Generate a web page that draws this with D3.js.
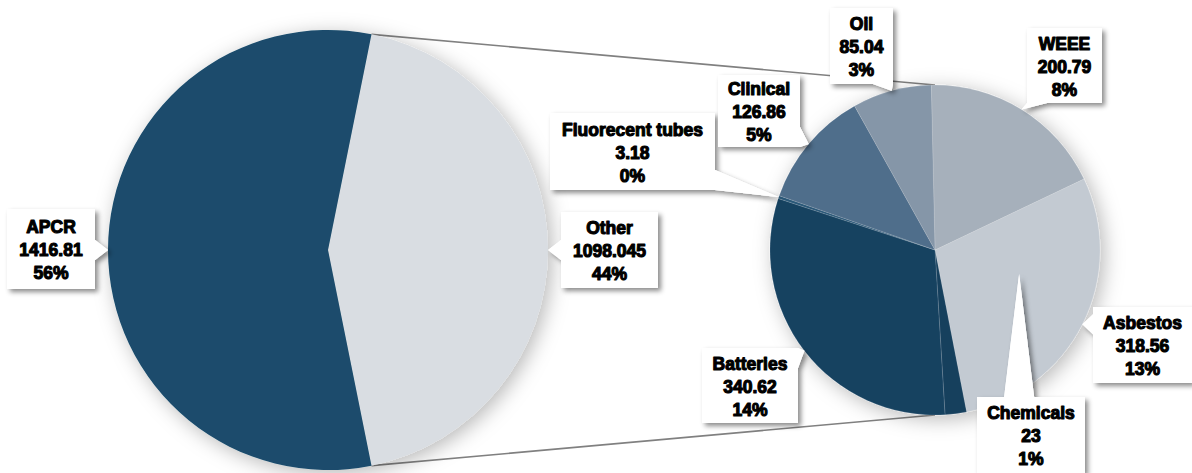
<!DOCTYPE html>
<html><head><meta charset="utf-8">
<script src="https://cdn.jsdelivr.net/npm/d3@7"></script>
<style>html,body{margin:0;padding:0;background:#fff;}svg{display:block;}</style>
</head><body>
<svg id="chart" width="1192" height="473"></svg>
<script>
// ---- data ----
const mainCategories = ["Other", "APCR"];
const mainValues = [1098.045, 1416.81];
const mainColors = ["#d9dde2", "#1a4c6c"];

const subCategories = ["WEEE", "Asbestos", "Chemicals", "Batteries", "Fluorecent tubes", "Clinical", "Oil"];
const subValues = [200.79, 318.56, 23, 340.62, 3.18, 126.86, 85.04];
const subColors = ["#a6b0bb", "#c3cad2", "#163f5d", "#174261", "#2b5878", "#506e8b", "#8596a8"];

// label box layout (x, y, w, h)
const labelBoxes = {
  "APCR": [7, 209, 88, 80],
  "Other": [561, 212, 97, 76],
  "Oil": [830, 8, 63, 76],
  "Clinical": [718, 75, 82, 72],
  "Fluorecent tubes": [550, 113, 165, 77],
  "WEEE": [1027, 28, 75, 75],
  "Asbestos": [1093, 307, 99, 76],
  "Chemicals": [977, 397, 108, 76],
  "Batteries": [702, 348, 96, 75]
};
// ---- layout ----
const svg = d3.select("#chart");
const total = d3.sum(mainValues);
const L = {cx: 328, cy: 250, r: 220};
const R = {cx: 935, cy: 250, r: 165};
const subStart = -1.3 * Math.PI / 180;

const defs = svg.append("defs");
const f1 = defs.append("filter").attr("id", "pieShadow").attr("x", "-20%").attr("y", "-20%").attr("width", "140%").attr("height", "140%");
f1.append("feDropShadow").attr("dx", 4).attr("dy", 4).attr("stdDeviation", 10).attr("flood-color", "#000").attr("flood-opacity", 0.28);
const f2 = defs.append("filter").attr("id", "boxShadow").attr("x", "-30%").attr("y", "-30%").attr("width", "160%").attr("height", "160%");
f2.append("feDropShadow").attr("dx", 3).attr("dy", 3).attr("stdDeviation", 2.5).attr("flood-color", "#000").attr("flood-opacity", 0.45);

// main pie: "Other" slice centred on 3 o'clock
const otherFrac = mainValues[0] / total;
const mainStart = Math.PI / 2 - otherFrac * Math.PI;
const mainPie = d3.pie().sort(null).value(d => d.v).startAngle(mainStart).endAngle(mainStart + 2 * Math.PI);
const mainArcs = mainPie(mainCategories.map((c, i) => ({c, v: mainValues[i], col: mainColors[i]})));

const subPie = d3.pie().sort(null).value(d => d.v).startAngle(subStart).endAngle(subStart + 2 * Math.PI);
const subArcs = subPie(subCategories.map((c, i) => ({c, v: subValues[i], col: subColors[i]})));

const pt = (C, a, r) => [C.cx + r * Math.sin(a), C.cy - r * Math.cos(a)];

// connector lines
const otherArc = mainArcs[0];
const conn = [
  [pt(L, otherArc.startAngle, L.r), pt(R, 0, R.r)],
  [pt(L, otherArc.endAngle, L.r), pt(R, Math.PI, R.r)]
];
svg.append("g").selectAll("line").data(conn).join("line")
  .attr("x1", d => d[0][0]).attr("y1", d => d[0][1])
  .attr("x2", d => d[1][0]).attr("y2", d => d[1][1])
  .attr("stroke", "#808080").attr("stroke-width", 1.6);

// pies
const arcL = d3.arc().innerRadius(0).outerRadius(L.r);
svg.append("g").attr("transform", `translate(${L.cx},${L.cy})`).attr("filter", "url(#pieShadow)")
  .selectAll("path").data(mainArcs).join("path")
  .attr("d", arcL).attr("fill", d => d.data.col);

const arcR = d3.arc().innerRadius(0).outerRadius(R.r);
svg.append("g").attr("transform", `translate(${R.cx},${R.cy})`).attr("filter", "url(#pieShadow)")
  .selectAll("path").data(subArcs).join("path")
  .attr("d", arcR).attr("fill", d => d.data.col)
  .attr("stroke", "rgba(255,255,255,0.25)").attr("stroke-width", 0.5);

// labels
const labels = [];
mainArcs.forEach(a => labels.push({name: a.data.c, v: a.data.v, tip: pt(L, (a.startAngle + a.endAngle) / 2, L.r)}));
subArcs.forEach(a => labels.push({name: a.data.c, v: a.data.v, tip: pt(R, (a.startAngle + a.endAngle) / 2, R.r)}));
// Chemicals callout pointer reaches into the pie
labels.forEach(l => { if (l.name === "Chemicals") { const m = subArcs[1]; l.tip = pt(R, (m.startAngle + m.endAngle) / 2 - 0.19, R.r * 0.53); } });

const fmtVal = v => String(v);
const fmtPct = v => Math.round(v / total * 100) + "%";

function wedge(box, tip, hw) {
  const [x, y, w, h] = box;
  const [tx, ty] = tip;
  const dx = tx < x ? x - tx : (tx > x + w ? tx - x - w : 0);
  const dy = ty < y ? y - ty : (ty > y + h ? ty - y - h : 0);
  let p1, p2;
  if (dx >= dy) {
    const ex = tx < x ? x : x + w;
    let c = Math.max(y + hw, Math.min(y + h - hw, ty));
    p1 = [ex, c - hw]; p2 = [ex, c + hw];
  } else {
    const ey = ty < y ? y : y + h;
    let c = Math.max(x + hw, Math.min(x + w - hw, tx));
    p1 = [c - hw, ey]; p2 = [c + hw, ey];
  }
  return `M${p1[0]},${p1[1]}L${tx},${ty}L${p2[0]},${p2[1]}Z`;
}

const lg = svg.append("g");
labels.forEach(l => {
  const box = labelBoxes[l.name];
  const hw = l.name === "Chemicals" ? 15 : 10;
  const g = lg.append("g");
  const sh = g.append("g").attr("filter", "url(#boxShadow)");
  sh.append("rect").attr("x", box[0]).attr("y", box[1]).attr("width", box[2]).attr("height", box[3]).attr("fill", "#fff");
  sh.append("path").attr("d", wedge(box, l.tip, hw)).attr("fill", "#fff");
  g.append("rect").attr("x", box[0]).attr("y", box[1]).attr("width", box[2]).attr("height", box[3]).attr("fill", "#fff");
  g.append("path").attr("d", wedge(box, l.tip, hw)).attr("fill", "#fff");
  const cx = box[0] + box[2] / 2, cy = box[1] + box[3] / 2 + 7;
  const lines = [l.name, fmtVal(l.v), fmtPct(l.v)];
  g.append("text").attr("text-anchor", "middle")
    .attr("font-family", "'Liberation Sans', Arial, sans-serif").attr("font-weight", "bold").attr("font-size", 17.5)
    .attr("fill", "#000").attr("stroke", "#000").attr("stroke-width", 1.1).attr("stroke-linejoin", "round")
    .selectAll("tspan").data(lines).join("tspan")
    .attr("x", cx).attr("y", (d, i) => cy + (i - 1) * 23).text(d => d);
});
</script>
</body></html>
